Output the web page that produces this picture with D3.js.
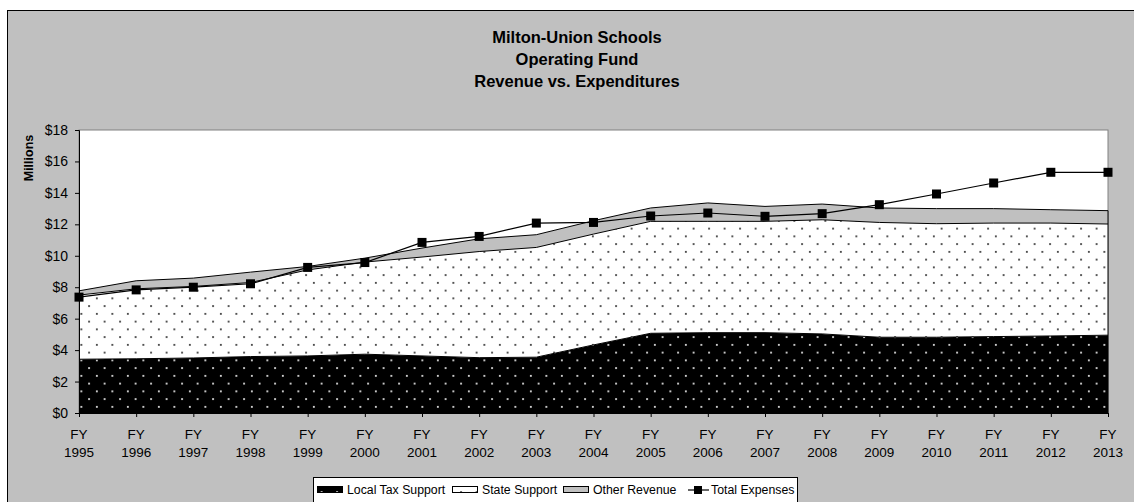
<!DOCTYPE html>
<html>
<head>
<meta charset="utf-8">
<script src="https://cdn.jsdelivr.net/npm/d3@7"></script>
<style>
  body { margin: 0; background: #fff; }
  text { font-family: "Liberation Sans", Arial, sans-serif; }
</style>
</head>
<body>
<script>
const years = ['1995','1996','1997','1998','1999','2000','2001','2002','2003','2004',
               '2005','2006','2007','2008','2009','2010','2011','2012','2013'];
const localTax = [3.42,3.45,3.50,3.59,3.63,3.74,3.63,3.52,3.55,4.33,5.07,5.11,5.11,5.03,4.82,4.82,4.86,4.90,4.95];
const stateSupport = [4.08,4.45,4.55,4.71,5.47,5.86,6.29,6.75,6.98,7.05,7.12,7.08,7.08,7.26,7.30,7.22,7.22,7.18,7.07];
const otherRevenue = [0.27,0.51,0.53,0.66,0.22,0.25,0.57,0.81,0.81,0.85,0.85,1.17,0.95,1.00,0.92,0.96,0.92,0.85,0.85];
const totalExpenses = [7.37,7.83,8.00,8.22,9.26,9.57,10.85,11.23,12.08,12.12,12.53,12.72,12.51,12.68,13.25,13.93,14.63,15.31,15.31];
const yTicks = [0,2,4,6,8,10,12,14,16,18];
const titleLines = ['Milton-Union Schools', 'Operating Fund', 'Revenue vs. Expenditures'];

const W = 1134, H = 502;
const svg = d3.select('body').append('svg').attr('width', W).attr('height', H);

// dotted fills
const defs = svg.append('defs');
function dotPattern(id, bg, dot) {
  const p = defs.append('pattern').attr('id', id)
    .attr('patternUnits', 'userSpaceOnUse').attr('width', 15.5).attr('height', 15.5);
  p.append('rect').attr('width', 15.5).attr('height', 15.5).attr('fill', bg);
  p.append('rect').attr('x', 3).attr('y', 3).attr('width', 1.7).attr('height', 1.7).attr('fill', dot);
  p.append('rect').attr('x', 10.75).attr('y', 10.75).attr('width', 1.7).attr('height', 1.7).attr('fill', dot);
}
dotPattern('pLocal', '#000', '#fff');
dotPattern('pState', '#fff', '#222');

// chart background
svg.append('rect').attr('x', 7.5).attr('y', 10.5).attr('width', W).attr('height', H)
  .attr('fill', '#c0c0c0').attr('stroke', '#000').attr('stroke-width', 1);

const m = {left: 79, top: 130, right: 1108, bottom: 413};
const x = d3.scalePoint().domain(years).range([m.left, m.right]);
const y = d3.scaleLinear().domain([0, 18]).range([m.bottom, m.top]);

svg.append('rect').attr('x', m.left).attr('y', m.top)
  .attr('width', m.right - m.left).attr('height', m.bottom - m.top)
  .attr('fill', '#fff').attr('stroke', '#808080').attr('stroke-width', 1);

const rows = years.map((yr, i) => ({year: yr, local: localTax[i], state: stateSupport[i], other: otherRevenue[i]}));
const stack = d3.stack().keys(['local', 'state', 'other'])(rows);
const fills = {local: 'url(#pLocal)', state: 'url(#pState)', other: '#c0c0c0'};

const area = d3.area().x(d => x(d.data.year)).y0(d => y(d[0])).y1(d => y(d[1]));
const topLine = d3.line().x(d => x(d.data.year)).y(d => y(d[1]));

svg.append('g').selectAll('path').data(stack).join('path')
  .attr('d', area).attr('fill', s => fills[s.key]).attr('stroke', 'none');
svg.append('g').selectAll('path').data(stack).join('path')
  .attr('d', topLine).attr('fill', 'none').attr('stroke', '#000').attr('stroke-width', 1);
// right edge of the stack
svg.append('line').attr('x1', m.right).attr('x2', m.right)
  .attr('y1', y(0)).attr('y2', y(stack[2][years.length - 1][1]))
  .attr('stroke', '#000').attr('stroke-width', 1);

// expenses line
const expLine = d3.line().x((d, i) => x(years[i])).y(d => y(d));
svg.append('path').datum(totalExpenses).attr('d', expLine)
  .attr('fill', 'none').attr('stroke', '#000').attr('stroke-width', 1.2);
svg.append('g').selectAll('rect').data(totalExpenses).join('rect')
  .attr('x', (d, i) => x(years[i]) - 4.5).attr('y', d => y(d) - 4.5)
  .attr('width', 9).attr('height', 9).attr('fill', '#000');

// axes
const yAxis = svg.append('g').attr('transform', `translate(${m.left},0)`)
  .call(d3.axisLeft(y).tickValues(yTicks).tickSize(4).tickPadding(7).tickFormat(d => '$' + d));
const xAxis = svg.append('g').attr('transform', `translate(0,${m.bottom})`)
  .call(d3.axisBottom(x).tickSize(4).tickFormat(''));
[yAxis, xAxis].forEach(a => {
  a.select('.domain').attr('stroke', '#000');
  a.selectAll('line').attr('stroke', '#000');
  a.selectAll('text').attr('font-size', 14).attr('fill', '#000')
    .style('font-family', '"Liberation Sans", Arial, sans-serif');
});

svg.append('g').selectAll('text').data(years).join('text')
  .attr('x', d => x(d)).attr('y', 439).attr('text-anchor', 'middle')
  .attr('font-size', 13.5).selectAll('tspan').data(d => ['FY', d]).join('tspan')
  .attr('x', function() { return d3.select(this.parentNode).attr('x'); })
  .attr('dy', (d, i) => i ? 18 : 0).text(d => d);

svg.append('text').attr('transform', 'translate(33,158) rotate(-90)')
  .attr('text-anchor', 'middle').attr('font-size', 12.5).attr('font-weight', 'bold').text('Millions');

// title
svg.append('g').selectAll('text').data(titleLines).join('text')
  .attr('x', 577).attr('y', (d, i) => 43 + i * 22).attr('text-anchor', 'middle')
  .attr('font-size', 16.5).attr('font-weight', 'bold').text(d => d);

// legend
const lg = svg.append('g');
lg.append('rect').attr('x', 313.5).attr('y', 477.5).attr('width', 484).attr('height', 40)
  .attr('fill', '#fff').attr('stroke', '#000');
const items = [
  {label: 'Local Tax Support', fill: 'url(#pLocal)', x: 317},
  {label: 'State Support', fill: 'url(#pState)', x: 452},
  {label: 'Other Revenue', fill: '#c0c0c0', x: 563},
  {label: 'Total Expenses', line: true, x: 688}
];
items.forEach(it => {
  if (it.line) {
    lg.append('line').attr('x1', it.x).attr('x2', it.x + 21).attr('y1', 490).attr('y2', 490)
      .attr('stroke', '#000').attr('stroke-width', 1.2);
    lg.append('rect').attr('x', it.x + 6).attr('y', 486).attr('width', 8).attr('height', 8).attr('fill', '#000');
    lg.append('text').attr('x', it.x + 23).attr('y', 494).attr('font-size', 12.3).text(it.label);
  } else {
    lg.append('rect').attr('x', it.x + 0.5).attr('y', 486.5).attr('width', 25).attr('height', 6)
      .attr('fill', it.fill).attr('stroke', '#000');
    lg.append('text').attr('x', it.x + 30).attr('y', 494).attr('font-size', 12.3).text(it.label);
  }
});
</script>
</body>
</html>
